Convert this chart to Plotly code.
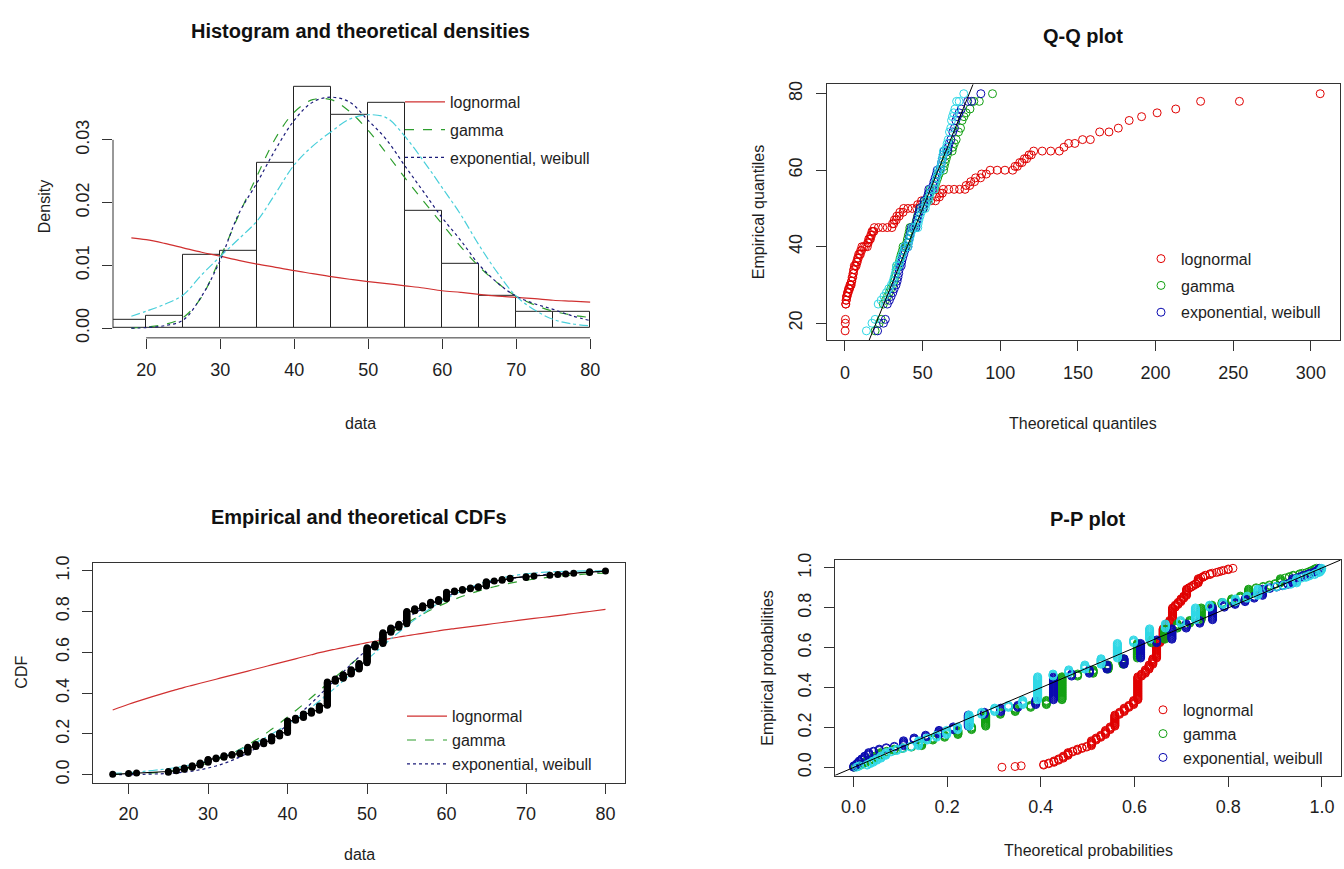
import plotly.graph_objects as go

W, H = 1344, 869

# ---------------- data ----------------
# Histogram (density scale)
hist_breaks = [15, 20, 25, 30, 35, 40, 45, 50, 55, 60, 65, 70, 75, 80]
hist_density = [0.00141, 0.00204, 0.01168, 0.01225, 0.02628, 0.03848, 0.03403,
                0.03586, 0.01869, 0.01026, 0.00518, 0.00267, 0.00267]

# Fitted densities drawn over the histogram
dens_x = [18, 20, 22.5, 25, 27.5, 30, 32.5, 35, 37.5, 40, 42.5, 45, 47.5, 50,
          52.5, 55, 57.5, 60, 62.5, 65, 67.5, 70, 72.5, 75, 77.5, 80]
dens_lognormal = [0.0144, 0.0141, 0.0135, 0.0128, 0.0121, 0.01147, 0.0108, 0.0102,
                  0.0097, 0.00916, 0.0087, 0.00822, 0.0078, 0.00743, 0.0071, 0.00675,
                  0.0064, 0.00597, 0.0057, 0.00539, 0.0051, 0.00492, 0.0047, 0.00445,
                  0.0043, 0.00414]
dens_gamma = [0.0000, 0.0002, 0.0006, 0.0017, 0.0050, 0.0112, 0.0180, 0.0243, 0.0303,
              0.0344, 0.0364, 0.0364, 0.0345, 0.0315, 0.0278, 0.0239, 0.0202, 0.0166,
              0.0130, 0.0098, 0.0072, 0.0051, 0.0037, 0.0027, 0.0021, 0.0017]
dens_expweib = [0.0000, 0.0001, 0.0004, 0.0013, 0.0051, 0.0108, 0.0182, 0.0232, 0.0285,
                0.0331, 0.0360, 0.0368, 0.0360, 0.0331, 0.0300, 0.0258, 0.0217, 0.0176,
                0.0140, 0.0101, 0.0072, 0.0051, 0.0039, 0.0030, 0.0020, 0.0012]
dens_cyan = [0.0019, 0.0027, 0.0038, 0.0053, 0.0085, 0.0114, 0.0142, 0.0171, 0.0215,
             0.0260, 0.0290, 0.0313, 0.0333, 0.0340, 0.0335, 0.0305, 0.0266, 0.0224,
             0.0181, 0.0132, 0.0088, 0.0051, 0.0029, 0.0014, 0.0007, 0.0004]

# Observed data: distinct values and how many times each occurs
levels = [18, 20, 21, 25, 26, 27, 28, 29, 30, 31, 32, 33, 34, 35, 36, 37, 38, 39, 40,
          41, 42, 43, 44, 45, 46, 47, 48, 49, 50, 51, 52, 53, 54, 55, 56, 57, 58, 59,
          60, 61, 62, 63, 64, 65, 66, 67, 68, 70, 71, 73, 74, 75, 76, 78, 80]
counts = [1, 1, 1, 2, 2, 3, 3, 4, 5, 2, 3, 2, 2, 8, 4, 4, 7, 5, 17,
          4, 6, 4, 7, 34, 4, 6, 7, 9, 22, 5, 16, 7, 5, 18, 4, 4, 5, 4,
          10, 2, 2, 2, 2, 7, 1, 2, 2, 2, 1, 1, 1, 1, 1, 2, 1]

# Theoretical CDF value at each distinct data value (CDF and P-P panels)
cdf_lognormal = [0.317, 0.345, 0.358, 0.406, 0.417, 0.428, 0.438, 0.448, 0.458, 0.468,
                 0.478, 0.488, 0.498, 0.508, 0.518, 0.528, 0.538, 0.548, 0.558, 0.568,
                 0.578, 0.588, 0.598, 0.607, 0.615, 0.623, 0.631, 0.639, 0.647, 0.654,
                 0.661, 0.668, 0.675, 0.681, 0.687, 0.693, 0.699, 0.705, 0.711, 0.716,
                 0.721, 0.726, 0.731, 0.736, 0.741, 0.746, 0.751, 0.761, 0.766, 0.775,
                 0.780, 0.785, 0.790, 0.800, 0.810]
cdf_gamma = [0.0009, 0.0023, 0.0035, 0.0152, 0.0206, 0.0274, 0.0357, 0.0457, 0.0575,
             0.0711, 0.0868, 0.1044, 0.1241, 0.1457, 0.1695, 0.1946, 0.2230, 0.2521,
             0.2823, 0.3135, 0.3453, 0.3783, 0.4118, 0.4451, 0.4785, 0.5116, 0.5438,
             0.5753, 0.6060, 0.6361, 0.6646, 0.6915, 0.7177, 0.7422, 0.7652, 0.7867,
             0.8073, 0.8259, 0.8435, 0.8595, 0.8745, 0.8878, 0.9001, 0.9113, 0.9213,
             0.9303, 0.9387, 0.9526, 0.9584, 0.9683, 0.9723, 0.9760, 0.9791, 0.9844,
             0.9884]
cdf_expweib = [0.0001, 0.0005, 0.0009, 0.0058, 0.0086, 0.0124, 0.0176, 0.0242, 0.0325,
               0.0427, 0.0551, 0.0700, 0.0872, 0.1069, 0.1295, 0.1541, 0.1827, 0.2130,
               0.2451, 0.2793, 0.3146, 0.3509, 0.3890, 0.4270, 0.4657, 0.5036, 0.5410,
               0.5777, 0.6129, 0.6473, 0.6797, 0.7102, 0.7392, 0.7664, 0.7916, 0.8146,
               0.8360, 0.8554, 0.8731, 0.8889, 0.9034, 0.9161, 0.9274, 0.9374, 0.9461,
               0.9539, 0.9607, 0.9716, 0.9759, 0.9829, 0.9857, 0.9880, 0.9900, 0.9931,
               0.9953]
cdf_cyan = [0.0061, 0.0101, 0.0128, 0.0293, 0.0353, 0.0421, 0.0500, 0.0588, 0.0689,
            0.0801, 0.0927, 0.1066, 0.1220, 0.1389, 0.1573, 0.1774, 0.1990, 0.2223,
            0.2471, 0.2735, 0.3014, 0.3308, 0.3614, 0.3932, 0.4260, 0.4596, 0.4940,
            0.5285, 0.5633, 0.5979, 0.6321, 0.6657, 0.6984, 0.7299, 0.7601, 0.7885,
            0.8153, 0.8401, 0.8630, 0.8837, 0.9024, 0.9189, 0.9334, 0.9460, 0.9567,
            0.9658, 0.9733, 0.9845, 0.9884, 0.9939, 0.9957, 0.9970, 0.9979, 0.9991,
            0.9996]

# Theoretical quantiles (Q-Q panel) plotted against each distinct data value
qq_lognormal = [[0.1], [0.2], [0.3], [0.45, 0.55], [0.7, 0.85], [1.0, 1.2, 1.4],
                [1.6, 1.9, 2.1], [2.3, 2.6, 3.0], [3.2, 3.6, 4.0], [4.2, 4.4], [4.6, 5.0],
                [5.2, 5.4], [5.6, 5.8], [6.0, 6.6, 7.2], [7.4, 7.9], [8.1, 8.6],
                [8.8, 9.4, 9.9], [10.1, 10.7], [10.9, 12.0, 13.2, 14.4], [14.6, 15.0],
                [15.3, 15.9, 16.4], [16.6, 17.1], [17.4, 18.0, 18.6],
                [18.9, 21.5, 24.3, 27.2, 30.2], [30.6, 31.4], [31.8, 33.0], [33.4, 34.9],
                [35.3, 37.4], [37.8, 40.5, 43.3, 46.2], [46.8, 48.6],
                [49.3, 52.3, 55.3, 58.3], [58.9, 60.8], [61.3, 62.7],
                [63.3, 66.8, 70.3, 73.8, 77.3], [78.0, 80.3], [81.0, 83.4], [84.1, 87.3],
                [88.0, 91.0], [93.5, 98.0, 103.0, 108.0], [109.5, 111.0], [112.5, 114.0],
                [115.5, 117.0], [118.5, 120.0], [121.5, 127.0, 132.5, 138.0], [141.0],
                [144.0, 148.0], [153.0, 158.0], [164.0, 170.0], [176.0], [183.0], [191.0],
                [201.0], [213.0], [229.0, 254.0], [306.0]]
qq_gamma = [[19.4], [22.0], [23.3], [24.7], [26.1], [27.3], [28.5], [29.5], [30.8], [31.6],
            [32.1], [32.7], [33.1], [33.3, 34.5], [34.9], [35.5], [36.2], [37.0],
            [37.4, 39.4], [39.7], [40.2], [40.8], [41.4], [41.8, 43.5, 45.3], [45.5],
            [46.1], [46.7], [47.6], [48.2, 50.5], [50.9], [51.2, 53.1], [53.7], [54.5],
            [54.9, 57.6], [58.0], [58.8], [59.7], [60.6], [61.2, 63.5], [63.9], [64.5],
            [65.2], [65.9], [66.4, 69.0], [69.5], [70.4], [71.6], [73.1], [74.4], [75.4],
            [76.6], [78.0], [80.5], [83.0, 86.5], [95.0]]
qq_expweib = [[21.0], [24.8], [26.0], [27.3], [28.6], [29.7], [30.8], [31.7], [32.9],
              [33.6], [34.1], [34.6], [34.9], [35.1, 36.2], [36.5], [37.1], [37.8], [38.5],
              [38.8, 40.5], [40.8], [41.3], [41.8], [42.3], [42.7, 44.2, 45.7], [45.9],
              [46.4], [47.0], [47.7], [48.2, 50.3], [50.6], [50.9, 52.5], [53.0], [53.7],
              [54.0, 56.3], [56.7], [57.3], [58.1], [58.9], [59.4, 61.3], [61.7], [62.2],
              [62.8], [63.3], [63.8, 66.0], [66.4], [67.1], [68.2], [69.4], [70.5], [71.4],
              [72.3], [73.5], [74.9], [79.0, 81.5], [87.5]]
qq_cyan = [[13.8], [17.4], [19.4], [21.4], [23.3], [25.1], [26.7], [28.2], [29.9], [31.0],
           [31.7], [32.4], [32.9], [33.2, 34.7], [35.2], [36.0], [36.9], [37.9],
           [38.4, 40.6], [40.9], [41.6], [42.2], [42.8], [43.3, 45.1, 46.9], [47.1],
           [47.6], [48.3], [49.1], [49.6, 51.7], [52.0], [52.3, 53.9], [54.3], [55.0],
           [55.3, 57.4], [57.7], [58.3], [58.9], [59.6], [60.0, 61.5], [61.8], [62.2],
           [62.6], [63.1], [63.4, 65.0], [65.3], [65.8], [66.5], [67.3], [68.1], [68.6],
           [69.2], [70.0], [70.8], [71.9, 73.5], [76.5]]

fit_names = ["lognormal", "gamma", "exponential, weibull", "weibull"]

# axis ticks
hist_xticks = [20, 30, 40, 50, 60, 70, 80]
hist_yticks = [0.00, 0.01, 0.02, 0.03]
qq_xticks = [0, 50, 100, 150, 200, 250, 300]
qq_yticks = [20, 40, 60, 80]
cdf_xticks = [20, 30, 40, 50, 60, 70, 80]
prob_ticks = [0.0, 0.2, 0.4, 0.6, 0.8, 1.0]

# axis ranges (R style, 4% extension)
hist_xrange = [15.52, 82.48]
hist_yrange = [-0.00154, 0.04004]
qq_xrange = [-11.9, 318.5]
qq_yrange = [15.52, 82.48]
cdf_xrange = [15.52, 82.48]
prob_range = [-0.04, 1.04]

# ---------------- styling ----------------
LINE_COL = ["#D03030", "#2E9E2E", "#1C1C7A", "#49CFDA"]
PT_COL = ["#E00000", "#12A012", "#0A0AB0", "#2ED8E6"]
DASH = ["solid", "dash", "dot", "dashdot"]
FONT = "Liberation Sans, Arial, sans-serif"
TXT = "#1e1e1e"

# ---------------- derived from data ----------------
n = sum(counts)
sample = [v for v, c in zip(levels, counts) for _ in range(c)]
emp_p = [(i + 0.5) / n for i in range(n)]

fig = go.Figure()

# ---- panel 1: histogram + densities ----
mids = [(a + b) / 2 for a, b in zip(hist_breaks[:-1], hist_breaks[1:])]
widths = [b - a for a, b in zip(hist_breaks[:-1], hist_breaks[1:])]
fig.add_trace(go.Bar(x=mids, y=hist_density, width=widths,
                     marker=dict(color="white", line=dict(color="#222", width=1)),
                     showlegend=False, xaxis="x", yaxis="y"))
for i, dens in enumerate([dens_lognormal, dens_gamma, dens_expweib, dens_cyan]):
    fig.add_trace(go.Scatter(x=dens_x, y=dens, mode="lines", name=fit_names[i],
                             line=dict(color=LINE_COL[i], width=1.2, dash=DASH[i],
                                       shape="spline"),
                             showlegend=(i < 3), legend="legend",
                             legendgroup="h%d" % i, xaxis="x", yaxis="y"))

# ---- panel 2: Q-Q ----
for i, qq in enumerate([qq_lognormal, qq_gamma, qq_expweib, qq_cyan]):
    xs = [q for grp in qq for q in grp]
    ys = [lv for grp, lv in zip(qq, levels) for _ in grp]
    fig.add_trace(go.Scatter(x=xs, y=ys, mode="markers", name=fit_names[i],
                             marker=dict(symbol="circle-open", size=8,
                                         color=PT_COL[i], line=dict(width=1)),
                             showlegend=(i < 3), legend="legend2",
                             legendgroup="q%d" % i, xaxis="x2", yaxis="y2"))
fig.add_trace(go.Scatter(x=qq_yrange, y=qq_yrange, mode="lines",
                         line=dict(color="black", width=1), showlegend=False,
                         xaxis="x2", yaxis="y2"))

# ---- panel 3: CDFs ----
for i, cdf in enumerate([cdf_lognormal, cdf_gamma, cdf_expweib, cdf_cyan]):
    fig.add_trace(go.Scatter(x=levels, y=cdf, mode="lines", name=fit_names[i],
                             line=dict(color=LINE_COL[i], width=1.2, dash=DASH[i],
                                       shape="spline"),
                             showlegend=(i < 3), legend="legend3",
                             legendgroup="c%d" % i, xaxis="x3", yaxis="y3"))
fig.add_trace(go.Scatter(x=sample, y=emp_p, mode="lines+markers",
                         line=dict(color="black", width=1.2),
                         marker=dict(color="black", size=7), showlegend=False,
                         xaxis="x3", yaxis="y3"))

# ---- panel 4: P-P ----
for i, cdf in enumerate([cdf_lognormal, cdf_gamma, cdf_expweib, cdf_cyan]):
    xs = [f for f, c in zip(cdf, counts) for _ in range(c)]
    fig.add_trace(go.Scatter(x=xs, y=emp_p, mode="markers", name=fit_names[i],
                             marker=dict(symbol="circle-open", size=8,
                                         color=PT_COL[i], line=dict(width=1)),
                             showlegend=(i < 3), legend="legend4",
                             legendgroup="p%d" % i, xaxis="x4", yaxis="y4"))
fig.add_trace(go.Scatter(x=prob_range, y=prob_range, mode="lines",
                         line=dict(color="black", width=1), showlegend=False,
                         xaxis="x4", yaxis="y4"))


def ax(domain, rng, ticks, fmt, boxed, angle=0, standoff=None):
    d = dict(domain=domain, range=rng, tickmode="array", tickvals=ticks,
             ticktext=[fmt.format(t) for t in ticks], ticks="outside", ticklen=10,
             tickwidth=1, tickcolor="#333", showgrid=False, zeroline=False,
             showline=True, mirror=boxed,
             linecolor="#333" if boxed else "rgba(0,0,0,0)", linewidth=1,
             tickangle=angle, tickfont=dict(size=18, color=TXT, family=FONT),
             fixedrange=True)
    if standoff is not None:
        d["ticklabelstandoff"] = standoff
    return d


def px_x(a, b):
    return [a / W, b / W]


def px_y(top, bottom):
    return [1 - bottom / H, 1 - top / H]


fig.update_layout(
    width=W, height=H, margin=dict(l=0, r=0, t=0, b=0),
    plot_bgcolor="white", paper_bgcolor="white",
    font=dict(family=FONT, size=16, color=TXT),
    xaxis=dict(ax(px_x(113, 608.5), hist_xrange, hist_xticks, "{:d}", False, 0, 6),
               anchor="y"),
    yaxis=dict(ax(px_y(70.8, 335.5), hist_yrange, hist_yticks, "{:.2f}", False, -90, 6),
               anchor="x"),
    xaxis2=dict(ax(px_x(826.5, 1339.6), qq_xrange, qq_xticks, "{:d}", True, 0, 6),
                anchor="y2"),
    yaxis2=dict(ax(px_y(78.3, 338), qq_yrange, qq_yticks, "{:d}", True, -90, 6),
                anchor="x2"),
    xaxis3=dict(ax(px_x(93, 625.2), cdf_xrange, cdf_xticks, "{:d}", True, 0, 5),
                anchor="y3"),
    yaxis3=dict(ax(px_y(563.3, 786.7), prob_range, prob_ticks, "{:.1f}", True, -90, 6),
                anchor="x3"),
    xaxis4=dict(ax(px_x(834.7, 1340.7), prob_range, prob_ticks, "{:.1f}", True, 0, 5),
                anchor="y4"),
    yaxis4=dict(ax(px_y(560.7, 779.3), prob_range, prob_ticks, "{:.1f}", True, -90, 6),
                anchor="x4"),
    legend=dict(x=400 / W, y=1 - 79 / H, xanchor="left", yanchor="top",
                bgcolor="rgba(0,0,0,0)", borderwidth=0, itemwidth=40,
                traceorder="grouped", tracegroupgap=4, font=dict(size=16)),
    legend2=dict(x=1141 / W, y=1 - 238 / H, xanchor="left", yanchor="top",
                 bgcolor="rgba(0,0,0,0)", borderwidth=0, itemwidth=30,
                 traceorder="grouped", tracegroupgap=3, font=dict(size=16)),
    legend3=dict(x=402 / W, y=1 - 702 / H, xanchor="left", yanchor="top",
                 bgcolor="rgba(0,0,0,0)", borderwidth=0, itemwidth=40,
                 traceorder="grouped", tracegroupgap=0, font=dict(size=16)),
    legend4=dict(x=1143 / W, y=1 - 695.5 / H, xanchor="left", yanchor="top",
                 bgcolor="rgba(0,0,0,0)", borderwidth=0, itemwidth=30,
                 traceorder="grouped", tracegroupgap=0, font=dict(size=16)),
    bargap=0,
)

# R-style axis lines for the histogram (span first to last tick only)
fig.add_shape(type="line", xref="x", yref="y domain", x0=hist_xticks[0],
              x1=hist_xticks[-1], y0=0, y1=0, line=dict(color="#333", width=1))
fig.add_shape(type="line", xref="x domain", yref="y", x0=0, x1=0,
              y0=hist_yticks[0], y1=hist_yticks[-1], line=dict(color="#333", width=1))


# titles and axis labels
def note(text, xpx, ypx, size=16, bold=False, angle=0):
    fig.add_annotation(text=text, x=xpx / W, y=1 - ypx / H, xref="paper", yref="paper",
                       showarrow=False, xanchor="center", yanchor="middle",
                       textangle=angle,
                       font=dict(size=size, color="#111" if bold else TXT, family=FONT,
                                 weight="bold" if bold else "normal"))


note("Histogram and theoretical densities", 360.5, 24, 20, True)
note("Q-Q plot", 1083, 29, 20, True)
note("Empirical and theoretical CDFs", 359, 517, 20, True)
note("P-P plot", 1088, 519, 20, True)

note("data", 360.5, 422)
note("Theoretical quantiles", 1083, 422)
note("data", 359, 859)
note("Theoretical probabilities", 1088, 855)

note("Density", 44, 203, angle=-90)
note("Empirical quantiles", 758, 208, angle=-90)
note("CDF", 22, 675, angle=-90)
note("Empirical probabilities", 768, 670, angle=-90)

fig.write_html("out.html", config={"displayModeBar": False},
               post_script="document.body.style.margin='0px';"
                           "document.body.style.overflow='hidden';")
